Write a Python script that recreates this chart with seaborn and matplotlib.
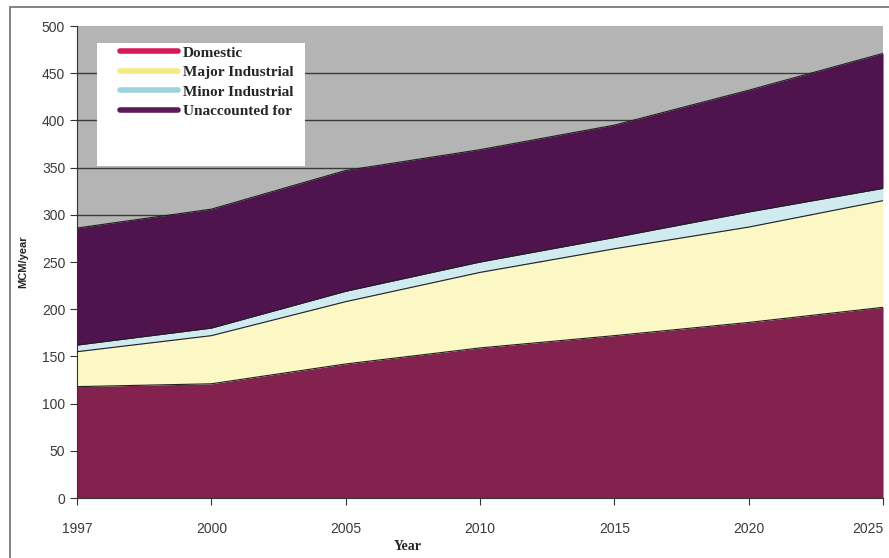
import seaborn as sns
import pandas as pd
import matplotlib.pyplot as plt
import numpy as np
from matplotlib.lines import Line2D
from matplotlib.patches import Rectangle

years = ["1997", "2000", "2005", "2010", "2015", "2020", "2025"]
domestic = [118, 121, 142, 159, 172, 186, 202]
major_industrial = [37, 51, 66, 80, 92, 101, 113]
minor_industrial = [7, 8, 11, 11, 12, 16, 13]
unaccounted = [124, 126, 128, 119, 119, 129, 143]

series_names = ["Domestic", "Major Industrial", "Minor Industrial", "Unaccounted for"]
fill_colors = ["#83214F", "#FBF8C6", "#CFEBF0", "#4F144E"]
legend_colors = ["#D5195C", "#F3EC84", "#9DD3E0", "#5A1A5C"]

data = pd.DataFrame({
    "Domestic": domestic,
    "Major Industrial": major_industrial,
    "Minor Industrial": minor_industrial,
    "Unaccounted for": unaccounted,
}, index=years)
stacked = data.cumsum(axis=1)
x = np.arange(len(years))

sns.set_style("white")
plt.rcParams["font.family"] = ["Liberation Sans", "DejaVu Sans"]

fig = plt.figure(figsize=(8.89, 5.58), dpi=100)
ax = fig.add_axes([0.0866, 0.1075, 0.9067, 0.8459])
ax.set_facecolor("#B4B4B4")

# outer frame of the picture
fig.patches.append(Rectangle((0.011, -0.05), 1.1, 1.038, transform=fig.transFigure,
                             fill=False, edgecolor="#6E6E6E", linewidth=1.2))

# gridlines behind the areas
for v in [50, 100, 150, 200, 250, 300, 350, 400, 450]:
    ax.axhline(v, color="#3A3A3A", linewidth=1.0, zorder=1)

# white legend panel in the upper left
ax.add_patch(Rectangle((0.025, 0.703), 0.258, 0.262, transform=ax.transAxes,
                       facecolor="white", edgecolor="none", zorder=1.5))

bottom = np.zeros(len(years))
for name, color in zip(series_names, fill_colors):
    top = stacked[name].values
    ax.fill_between(x, bottom, top, color=color, linewidth=0, zorder=2)
    sns.lineplot(x=x, y=top, ax=ax, color="#202020", linewidth=0.8, zorder=3,
                 legend=False)
    bottom = top

ax.set_xlim(0, len(years) - 1)
ax.set_ylim(0, 500)
ax.set_xticks(x)
ax.set_xticklabels(years)
ax.set_yticks(np.arange(0, 501, 50))
ax.tick_params(axis="both", direction="out", length=5, width=0.8, color="#333333",
               labelsize=10, labelcolor="#3A3A3A", bottom=True, left=True)
ax.tick_params(axis="x", pad=12)
ax.get_xticklabels()[-1].set_horizontalalignment("right")
for side in ["left", "bottom"]:
    ax.spines[side].set_color("#333333")
    ax.spines[side].set_linewidth(0.8)
for side in ["top", "right"]:
    ax.spines[side].set_visible(False)

ax.set_xlabel("Year", family=["Liberation Serif"], fontweight="bold", fontsize=10)
ax.xaxis.set_label_coords(0.41, -0.09)
ax.set_ylabel("MCM/year", fontweight="bold", fontsize=8)
ax.yaxis.set_label_coords(-0.06, 0.5)

handles = [Line2D([0], [0], color=c, linewidth=4, solid_capstyle="round")
           for c in legend_colors]
ax.legend(handles, series_names, loc="upper left", bbox_to_anchor=(0.04, 0.98),
          frameon=False, handlelength=3.8, handletextpad=0.3, labelspacing=0.38,
          borderpad=0.2,
          prop={"family": "Liberation Serif", "weight": "bold", "size": 11})

plt.savefig("out.png", dpi=100)
